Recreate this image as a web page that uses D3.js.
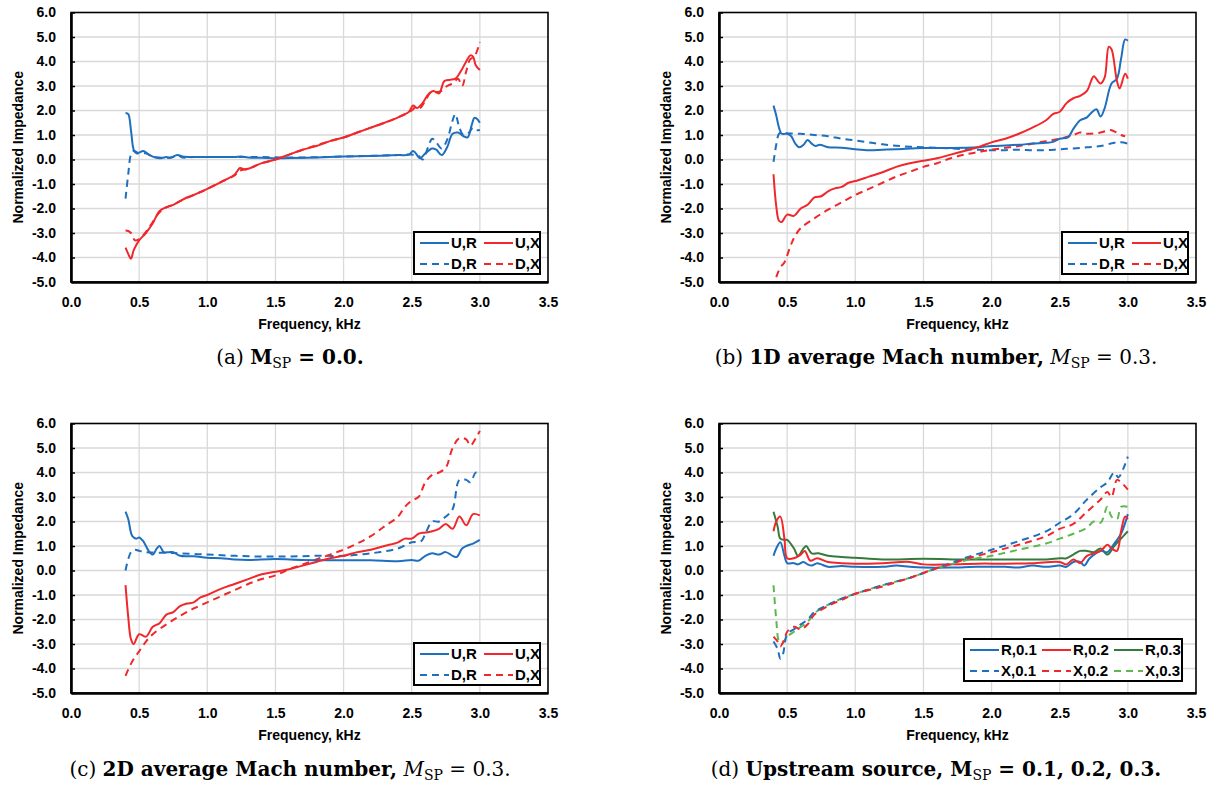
<!DOCTYPE html>
<html>
<head>
<meta charset="utf-8">
<script src="https://cdn.jsdelivr.net/npm/d3@7"></script>
<style>
  html, body { margin: 0; padding: 0; background: #fff; }
  svg { display: block; }
</style>
</head>
<body>
<svg id="fig" width="1218" height="790"></svg>
<script>
// Axis ticks shared by all four panels
const xTicks = [0.0, 0.5, 1.0, 1.5, 2.0, 2.5, 3.0, 3.5];
const yTicks = [-5, -4, -3, -2, -1, 0, 1, 2, 3, 4, 5, 6];

// (a) M_SP = 0.0 — [frequency kHz, normalized impedance]
const a_UR = [[0.40,1.90],[0.42,1.85],[0.44,1.2],[0.46,0.4],[0.48,0.25],[0.50,0.28],[0.53,0.35],[0.57,0.2],[0.62,0.08],[0.65,0.05],[0.70,0.1],[0.73,0.07],[0.78,0.18],[0.82,0.12],[0.90,0.1],[1.00,0.1],[1.10,0.1],[1.20,0.1],[1.25,0.12],[1.30,0.08],[1.40,0.07],[1.50,0.05],[1.60,0.06],[1.80,0.08],[2.00,0.12],[2.20,0.14],[2.40,0.18],[2.48,0.2],[2.51,0.35],[2.53,0.25],[2.56,0.05],[2.60,0.25],[2.65,0.45],[2.68,0.4],[2.72,0.18],[2.76,0.5],[2.80,1.05],[2.84,1.1],[2.88,0.95],[2.91,0.9],[2.94,1.4],[2.96,1.7],[2.98,1.65],[3.00,1.5]];
const a_DR = [[0.40,-1.6],[0.42,-0.6],[0.44,0.2],[0.46,0.35],[0.50,0.25],[0.55,0.25],[0.60,0.12],[0.65,0.08],[0.70,0.06],[0.75,0.1],[0.79,0.15],[0.82,0.08],[0.90,0.1],[1.00,0.1],[1.20,0.1],[1.40,0.1],[1.60,0.08],[1.85,0.1],[2.00,0.12],[2.20,0.15],[2.40,0.18],[2.50,0.2],[2.55,0.15],[2.58,0.0],[2.62,0.5],[2.65,0.85],[2.68,0.7],[2.72,0.45],[2.76,0.8],[2.80,1.6],[2.82,1.85],[2.85,1.3],[2.88,1.0],[2.92,1.1],[2.95,1.3],[2.98,1.2],[3.00,1.2]];
const a_UX = [[0.40,-3.6],[0.42,-3.85],[0.44,-4.05],[0.46,-3.7],[0.50,-3.3],[0.55,-3.0],[0.60,-2.6],[0.65,-2.1],[0.70,-1.95],[0.75,-1.85],[0.80,-1.7],[0.85,-1.55],[0.90,-1.45],[1.00,-1.2],[1.10,-0.92],[1.20,-0.62],[1.24,-0.35],[1.27,-0.4],[1.30,-0.38],[1.40,-0.15],[1.50,0.0],[1.60,0.2],[1.70,0.4],[1.80,0.55],[1.90,0.75],[2.00,0.9],[2.10,1.1],[2.20,1.3],[2.30,1.5],[2.40,1.72],[2.48,1.95],[2.51,2.2],[2.54,2.1],[2.58,2.3],[2.62,2.65],[2.66,2.8],[2.70,2.7],[2.74,3.2],[2.78,3.25],[2.82,3.3],[2.86,3.6],[2.90,4.0],[2.93,4.25],[2.95,4.2],[2.97,3.85],[3.00,3.65]];
const a_DX = [[0.40,-2.9],[0.42,-2.92],[0.44,-3.0],[0.47,-3.3],[0.50,-3.25],[0.55,-2.95],[0.60,-2.55],[0.65,-2.15],[0.70,-1.95],[0.75,-1.85],[0.80,-1.7],[0.90,-1.45],[1.00,-1.2],[1.10,-0.92],[1.20,-0.65],[1.24,-0.45],[1.30,-0.38],[1.40,-0.15],[1.50,0.0],[1.60,0.2],[1.70,0.4],[1.80,0.58],[1.90,0.75],[2.00,0.9],[2.10,1.1],[2.20,1.3],[2.30,1.5],[2.40,1.72],[2.50,2.0],[2.53,2.15],[2.56,2.1],[2.60,2.4],[2.64,2.75],[2.68,2.75],[2.72,2.8],[2.76,3.0],[2.80,3.1],[2.84,3.3],[2.87,3.0],[2.90,3.6],[2.93,4.1],[2.96,4.2],[3.00,4.8]];

// (b) 1D average Mach number, M_SP = 0.3
const b_UR = [[0.40,2.2],[0.42,1.8],[0.44,1.3],[0.46,1.05],[0.50,1.05],[0.53,0.95],[0.56,0.65],[0.59,0.5],[0.62,0.6],[0.65,0.8],[0.68,0.65],[0.71,0.55],[0.74,0.6],[0.80,0.5],[0.90,0.48],[1.00,0.42],[1.10,0.38],[1.20,0.4],[1.30,0.42],[1.50,0.47],[1.70,0.47],[1.90,0.5],[2.00,0.55],[2.20,0.6],[2.30,0.65],[2.40,0.68],[2.45,0.72],[2.50,0.85],[2.56,0.9],[2.60,1.25],[2.65,1.6],[2.70,1.72],[2.74,1.95],[2.77,2.05],[2.80,1.75],[2.83,2.1],[2.88,3.1],[2.92,3.3],[2.95,4.1],[2.98,4.9],[3.00,4.85]];
const b_DR = [[0.40,-0.1],[0.42,0.6],[0.44,1.05],[0.46,1.1],[0.50,1.07],[0.60,1.05],[0.70,1.0],[0.80,0.95],[0.90,0.85],[1.00,0.78],[1.10,0.7],[1.20,0.62],[1.30,0.56],[1.40,0.52],[1.50,0.5],[1.70,0.45],[1.90,0.4],[2.00,0.38],[2.10,0.38],[2.20,0.4],[2.30,0.38],[2.40,0.38],[2.50,0.42],[2.60,0.45],[2.70,0.5],[2.80,0.55],[2.90,0.68],[2.95,0.7],[3.00,0.65]];
const b_UX = [[0.40,-0.6],[0.42,-1.9],[0.44,-2.5],[0.46,-2.55],[0.50,-2.25],[0.55,-2.3],[0.60,-2.0],[0.65,-1.85],[0.70,-1.55],[0.75,-1.5],[0.80,-1.3],[0.85,-1.18],[0.90,-1.12],[0.95,-0.95],[1.00,-0.88],[1.10,-0.7],[1.20,-0.52],[1.30,-0.3],[1.40,-0.15],[1.50,-0.05],[1.60,0.05],[1.70,0.2],[1.80,0.35],[1.90,0.5],[2.00,0.7],[2.10,0.85],[2.20,1.05],[2.30,1.3],[2.40,1.6],[2.45,1.85],[2.50,1.95],[2.55,2.3],[2.60,2.5],[2.65,2.6],[2.70,2.8],[2.73,3.2],[2.75,3.4],[2.80,3.1],[2.83,3.35],[2.86,4.6],[2.88,4.5],[2.92,3.2],[2.94,2.9],[2.98,3.5],[3.00,3.3]];
const b_DX = [[0.42,-4.8],[0.45,-4.4],[0.48,-4.2],[0.52,-3.6],[0.55,-3.2],[0.60,-2.8],[0.70,-2.4],[0.80,-2.05],[0.90,-1.75],[1.00,-1.45],[1.10,-1.2],[1.20,-0.95],[1.30,-0.7],[1.40,-0.5],[1.50,-0.3],[1.60,-0.15],[1.70,0.05],[1.80,0.2],[1.90,0.3],[2.00,0.4],[2.20,0.55],[2.40,0.75],[2.50,0.85],[2.60,1.0],[2.65,1.1],[2.70,1.05],[2.80,1.1],[2.87,1.2],[2.90,1.15],[2.95,1.0],[2.98,0.95]];

// (c) 2D average Mach number, M_SP = 0.3
const c_UR = [[0.40,2.4],[0.42,2.1],[0.45,1.4],[0.48,1.3],[0.50,1.35],[0.53,1.2],[0.57,0.8],[0.60,0.65],[0.63,0.9],[0.65,1.0],[0.68,0.75],[0.72,0.75],[0.75,0.75],[0.80,0.6],[0.90,0.58],[1.00,0.52],[1.10,0.5],[1.20,0.45],[1.30,0.43],[1.50,0.47],[1.70,0.43],[2.00,0.42],[2.20,0.42],[2.40,0.38],[2.50,0.43],[2.55,0.4],[2.60,0.6],[2.65,0.7],[2.70,0.65],[2.75,0.75],[2.80,0.6],[2.83,0.55],[2.87,0.9],[2.90,1.0],[2.95,1.1],[3.00,1.25]];
const c_DR = [[0.40,0.0],[0.44,0.75],[0.47,0.85],[0.50,0.8],[0.55,0.75],[0.70,0.72],[0.80,0.7],[1.00,0.65],[1.20,0.6],[1.40,0.57],[1.60,0.57],[1.80,0.6],[2.00,0.6],[2.20,0.7],[2.40,0.9],[2.50,1.15],[2.57,1.2],[2.60,1.5],[2.65,2.0],[2.70,2.0],[2.75,2.2],[2.80,2.5],[2.85,3.7],[2.90,3.7],[2.93,3.6],[2.97,4.0],[3.00,4.0]];
const c_UX = [[0.40,-0.6],[0.42,-1.9],[0.44,-2.8],[0.46,-3.0],[0.50,-2.6],[0.55,-2.7],[0.60,-2.3],[0.65,-2.15],[0.70,-1.8],[0.75,-1.7],[0.80,-1.45],[0.85,-1.35],[0.90,-1.3],[0.95,-1.1],[1.00,-1.0],[1.10,-0.75],[1.20,-0.55],[1.30,-0.35],[1.40,-0.15],[1.50,-0.05],[1.60,0.05],[1.70,0.2],[1.80,0.35],[1.90,0.5],[2.00,0.6],[2.10,0.75],[2.20,0.85],[2.30,1.0],[2.40,1.15],[2.45,1.3],[2.50,1.3],[2.55,1.5],[2.60,1.55],[2.65,1.6],[2.70,1.7],[2.75,1.9],[2.80,1.7],[2.85,2.2],[2.90,1.85],[2.95,2.3],[3.00,2.25]];
const c_DX = [[0.40,-4.3],[0.45,-3.7],[0.50,-3.3],[0.55,-2.9],[0.60,-2.6],[0.70,-2.2],[0.80,-1.85],[0.90,-1.55],[1.00,-1.3],[1.10,-1.05],[1.20,-0.8],[1.30,-0.55],[1.40,-0.35],[1.50,-0.2],[1.60,0.05],[1.70,0.25],[1.80,0.45],[1.90,0.65],[2.00,0.85],[2.10,1.1],[2.20,1.4],[2.30,1.8],[2.40,2.2],[2.45,2.6],[2.50,2.85],[2.55,3.0],[2.60,3.6],[2.65,3.9],[2.70,4.0],[2.75,4.2],[2.80,5.0],[2.85,5.4],[2.90,5.35],[2.93,5.1],[2.97,5.4],[3.00,5.7]];

// (d) Upstream source, M_SP = 0.1, 0.2, 0.3
const d_R1 = [[0.40,0.6],[0.42,0.9],[0.45,1.15],[0.48,0.6],[0.50,0.3],[0.55,0.3],[0.58,0.25],[0.62,0.35],[0.65,0.25],[0.68,0.2],[0.72,0.3],[0.75,0.25],[0.80,0.15],[0.90,0.18],[1.00,0.15],[1.20,0.15],[1.30,0.2],[1.40,0.15],[1.50,0.12],[1.70,0.12],[1.90,0.15],[2.10,0.15],[2.20,0.12],[2.30,0.2],[2.40,0.15],[2.50,0.2],[2.55,0.15],[2.60,0.35],[2.65,0.35],[2.68,0.2],[2.72,0.5],[2.80,0.8],[2.85,0.75],[2.90,1.1],[2.95,1.5],[3.00,2.3]];
const d_R2 = [[0.40,1.6],[0.42,2.0],[0.45,2.2],[0.48,1.3],[0.50,0.5],[0.55,0.5],[0.60,0.65],[0.63,0.8],[0.67,0.4],[0.72,0.5],[0.80,0.35],[0.90,0.3],[1.00,0.28],[1.20,0.3],[1.40,0.35],[1.50,0.25],[1.70,0.25],[1.90,0.28],[2.10,0.28],[2.30,0.3],[2.50,0.35],[2.55,0.25],[2.60,0.45],[2.65,0.3],[2.70,0.6],[2.80,0.8],[2.85,1.05],[2.88,0.9],[2.92,0.8],[2.95,1.6],[2.98,2.2],[3.00,2.1]];
const d_R3 = [[0.40,2.4],[0.43,1.8],[0.45,1.3],[0.48,1.25],[0.50,1.25],[0.55,0.9],[0.58,0.6],[0.62,0.9],[0.64,1.0],[0.68,0.7],[0.73,0.7],[0.80,0.6],[0.90,0.55],[1.00,0.52],[1.20,0.45],[1.50,0.48],[1.80,0.45],[2.00,0.45],[2.20,0.45],[2.40,0.45],[2.50,0.5],[2.55,0.5],[2.60,0.65],[2.65,0.8],[2.70,0.8],[2.75,0.75],[2.80,0.9],[2.85,0.65],[2.90,1.0],[2.95,1.3],[3.00,1.6]];
const d_X1 = [[0.40,-2.9],[0.43,-3.2],[0.45,-3.6],[0.47,-3.4],[0.50,-2.6],[0.55,-2.4],[0.60,-2.2],[0.65,-2.0],[0.70,-1.7],[0.80,-1.4],[0.90,-1.15],[1.00,-0.95],[1.20,-0.6],[1.40,-0.3],[1.50,-0.1],[1.60,0.1],[1.70,0.3],[1.80,0.5],[2.00,0.85],[2.20,1.2],[2.40,1.6],[2.50,1.95],[2.60,2.3],[2.70,2.9],[2.80,3.4],[2.85,3.6],[2.90,4.0],[2.93,3.8],[2.97,4.2],[3.00,4.65]];
const d_X2 = [[0.40,-2.7],[0.43,-2.9],[0.45,-3.1],[0.48,-2.8],[0.50,-2.5],[0.55,-2.3],[0.60,-2.4],[0.65,-2.2],[0.70,-1.8],[0.80,-1.45],[0.90,-1.2],[1.00,-0.95],[1.20,-0.65],[1.40,-0.3],[1.50,-0.1],[1.60,0.1],[1.70,0.25],[1.80,0.45],[2.00,0.75],[2.20,1.05],[2.40,1.4],[2.50,1.7],[2.60,1.9],[2.70,2.4],[2.80,2.9],[2.85,3.2],[2.88,3.0],[2.92,3.7],[2.95,3.6],[3.00,3.3]];
const d_X3 = [[0.40,-0.6],[0.42,-2.0],[0.44,-2.9],[0.46,-3.0],[0.50,-2.7],[0.55,-2.5],[0.60,-2.3],[0.65,-2.1],[0.70,-1.75],[0.80,-1.4],[0.90,-1.15],[1.00,-0.95],[1.20,-0.6],[1.40,-0.3],[1.50,-0.1],[1.60,0.1],[1.70,0.25],[1.80,0.4],[2.00,0.6],[2.20,0.85],[2.40,1.1],[2.50,1.3],[2.60,1.5],[2.70,1.75],[2.75,2.0],[2.80,1.95],[2.85,2.6],[2.88,2.2],[2.92,2.1],[2.95,2.6],[3.00,2.6]];

const BLUE = "#1f6fbf", RED = "#f0272b", DKGREEN = "#357a3c", LTGREEN = "#5cb84f";
const DASH = "7,5";
const SANS = "'Liberation Sans', Arial, sans-serif";
const SERIF = "'DejaVu Serif', 'Liberation Serif', serif";

const panels = [
  { x0: 71, y0: 12.5, legendCols: 2, legendW: 126, legendInset: [8, 8],
    series: [
      { name: "U,R", data: a_UR, color: BLUE, dash: null },
      { name: "U,X", data: a_UX, color: RED, dash: null },
      { name: "D,R", data: a_DR, color: BLUE, dash: DASH },
      { name: "D,X", data: a_DX, color: RED, dash: DASH }],
    drawOrder: [2, 0, 3, 1] },
  { x0: 719, y0: 12.5, legendCols: 2, legendW: 126, legendInset: [8, 8],
    series: [
      { name: "U,R", data: b_UR, color: BLUE, dash: null },
      { name: "U,X", data: b_UX, color: RED, dash: null },
      { name: "D,R", data: b_DR, color: BLUE, dash: DASH },
      { name: "D,X", data: b_DX, color: RED, dash: DASH }],
    drawOrder: [2, 3, 0, 1] },
  { x0: 71, y0: 423.5, legendCols: 2, legendW: 126, legendInset: [8, 8],
    series: [
      { name: "U,R", data: c_UR, color: BLUE, dash: null },
      { name: "U,X", data: c_UX, color: RED, dash: null },
      { name: "D,R", data: c_DR, color: BLUE, dash: DASH },
      { name: "D,X", data: c_DX, color: RED, dash: DASH }],
    drawOrder: [2, 3, 0, 1] },
  { x0: 719, y0: 423.5, legendCols: 3, legendW: 218, legendInset: [14, 12],
    series: [
      { name: "R,0.1", data: d_R1, color: BLUE, dash: null },
      { name: "R,0.2", data: d_R2, color: RED, dash: null },
      { name: "R,0.3", data: d_R3, color: DKGREEN, dash: null },
      { name: "X,0.1", data: d_X1, color: BLUE, dash: DASH },
      { name: "X,0.2", data: d_X2, color: RED, dash: DASH },
      { name: "X,0.3", data: d_X3, color: LTGREEN, dash: DASH }],
    drawOrder: [2, 0, 1, 5, 3, 4] }
];

const captions = [
  { cx: 290, y: 364, parts: [["(a) ", "n"], ["M", "b"], ["SP", "sub"], [" = 0.0.", "b"]] },
  { cx: 936, y: 364, parts: [["(b) ", "n"], ["1D average Mach number,", "b"], [" ", "n"], ["M", "i"], ["SP", "sub"], [" = 0.3.", "n"]] },
  { cx: 290, y: 776, parts: [["(c) ", "n"], ["2D average Mach number,", "b"], [" ", "n"], ["M", "i"], ["SP", "sub"], [" = 0.3.", "n"]] },
  { cx: 936, y: 776, parts: [["(d) ", "n"], ["Upstream source, M", "b"], ["SP", "sub"], [" = 0.1, 0.2, 0.3.", "b"]] }
];

const W = 477, H = 269.5;
const svg = d3.select("#fig");
const fmt = v => v.toFixed(1);

panels.forEach(p => {
  const g = svg.append("g").attr("transform", `translate(${p.x0},${p.y0})`);
  const x = d3.scaleLinear().domain([0, 3.5]).range([0, W]);
  const y = d3.scaleLinear().domain([-5, 6]).range([H, 0]);

  // grid
  g.append("g").selectAll("line.v").data(xTicks.slice(1, -1)).join("line")
    .attr("x1", d => x(d)).attr("x2", d => x(d)).attr("y1", 0).attr("y2", H)
    .attr("stroke", "#d9d9d9").attr("stroke-width", 1.3);
  g.append("g").selectAll("line.h").data(yTicks.slice(1, -1)).join("line")
    .attr("x1", 0).attr("x2", W).attr("y1", d => y(d)).attr("y2", d => y(d))
    .attr("stroke", "#d9d9d9").attr("stroke-width", 1.3);

  // series
  const line = d3.line().x(d => x(d[0])).y(d => y(d[1])).curve(d3.curveCatmullRom.alpha(0.5));
  const clipId = "clip" + p.x0 + "_" + Math.round(p.y0);
  g.append("clipPath").attr("id", clipId).append("rect")
    .attr("x", 0).attr("y", 0).attr("width", W).attr("height", H);
  const sg = g.append("g").attr("clip-path", `url(#${clipId})`);
  p.drawOrder.forEach(i => {
    const s = p.series[i];
    sg.append("path").datum(s.data).attr("d", line)
      .attr("fill", "none").attr("stroke", s.color).attr("stroke-width", 2)
      .attr("stroke-dasharray", s.dash).attr("stroke-linejoin", "round");
  });

  // frame
  g.append("rect").attr("x", 0).attr("y", 0).attr("width", W).attr("height", H)
    .attr("fill", "none").attr("stroke", "#000").attr("stroke-width", 1.6);

  // axes
  const yAxis = d3.axisLeft(y).tickValues(yTicks).tickFormat(fmt).tickSizeInner(-4).tickSizeOuter(0).tickPadding(15);
  const xAxis = d3.axisBottom(x).tickValues(xTicks).tickFormat(fmt).tickSize(0).tickPadding(15);
  const ya = g.append("g").call(yAxis);
  const xa = g.append("g").attr("transform", `translate(0,${H})`).call(xAxis);
  [ya, xa].forEach(a => {
    a.select(".domain").attr("stroke", "#000").attr("stroke-width", 2.6);
    a.selectAll(".tick line").attr("stroke", "#000").attr("stroke-width", 1.5);
    a.selectAll("text").attr("font-family", SANS).attr("font-weight", "bold")
      .attr("font-size", 14).attr("fill", "#000");
  });
  ya.selectAll("text").attr("x", -15);

  // axis titles
  g.append("text").attr("x", W / 2).attr("y", H + 47).attr("text-anchor", "middle")
    .attr("font-family", SANS).attr("font-weight", "bold").attr("font-size", 14).text("Frequency, kHz");
  g.append("text").attr("transform", `translate(-48,${H / 2}) rotate(-90)`).attr("text-anchor", "middle")
    .attr("font-family", SANS).attr("font-weight", "bold").attr("font-size", 14).text("Normalized Impedance");

  // legend
  const lh = 42, lw = p.legendW;
  const lx = W - p.legendInset[0] - lw, ly = H - p.legendInset[1] - lh;
  const lg = g.append("g").attr("transform", `translate(${lx},${ly})`);
  lg.append("rect").attr("width", lw).attr("height", lh).attr("fill", "#fff")
    .attr("stroke", "#000").attr("stroke-width", 2);
  const colW = p.legendCols === 2 ? 64 : 72;
  p.series.forEach((s, i) => {
    const col = i % p.legendCols, row = Math.floor(i / p.legendCols);
    const cx = 6 + col * colW, cy = 11 + row * 21;
    lg.append("line").attr("x1", cx).attr("x2", cx + 29).attr("y1", cy).attr("y2", cy)
      .attr("stroke", s.color).attr("stroke-width", 2).attr("stroke-dasharray", s.dash);
    lg.append("text").attr("x", cx + 31).attr("y", cy + 5).attr("font-family", SANS)
      .attr("font-weight", "bold").attr("font-size", 15).text(s.name);
  });
});

// captions
captions.forEach(c => {
  const t = svg.append("text").attr("x", c.cx).attr("y", c.y).attr("text-anchor", "middle")
    .attr("font-family", SERIF).attr("font-size", 20).attr("fill", "#000");
  c.parts.forEach(([str, style]) => {
    const ts = t.append("tspan").text(str);
    if (style === "b") ts.attr("font-weight", "bold");
    if (style === "i") ts.attr("font-style", "italic");
    if (style === "sub") ts.attr("font-size", 14).attr("baseline-shift", "-4");
  });
});
</script>
</body>
</html>
